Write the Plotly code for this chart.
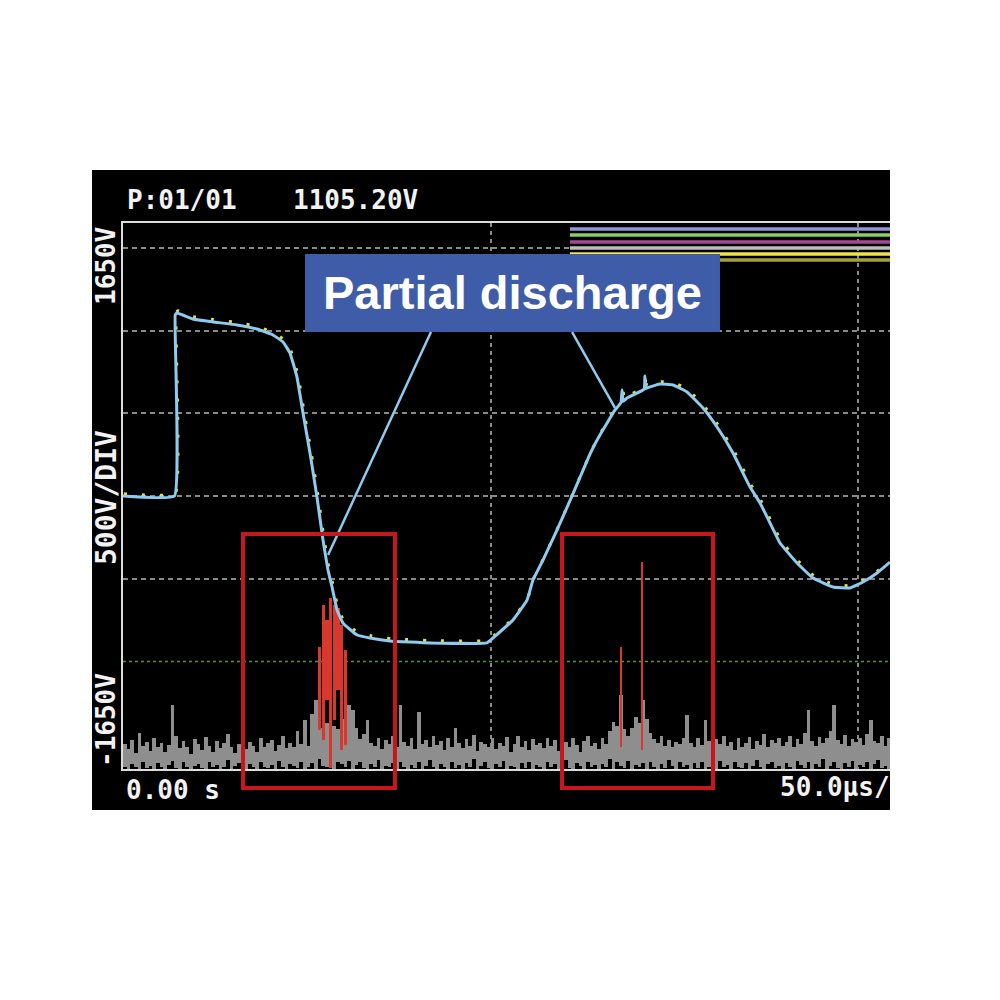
import plotly.graph_objects as go

# ---------------- data ----------------
# CH1 applied voltage waveform: time (µs) and voltage (V)
wave_t = [0, 7.0, 7.1, 7.35, 9.52, 12.24, 15.51, 18.23, 20.41,
          21.77, 22.72, 23.67, 24.49, 25.44, 26.39, 27.21, 27.89, 28.44, 29.12,
          29.93, 31.84, 33.61, 36.33, 41.77, 49.52, 50.34, 53.06, 54.97, 55.78,
          57.14, 58.9, 60.5, 62.1, 63.6, 64.90, 66.94, 67.75, 67.9, 68.05, 68.57, 70.9,
          71.0, 71.12, 71.29, 73.06, 74.83, 76.73, 78.91, 80.82, 82.99, 85.31,
          86.67, 88.03, 89.39, 91.70, 93.88, 96.60, 98.91, 100.68, 102.59, 104.35]
wave_v = [0, 0, 1094, 1106, 1070, 1052, 1034, 1009, 973,
          931, 864, 719, 502, 260, -6, -266, -447, -550, -689,
          -768, -840, -858, -876, -888, -888, -858, -749, -629, -508,
          -387, -220, -60, 105, 260, 370, 520, 565, 640, 572, 592, 646,
          725, 650, 653, 677, 671, 629, 532, 417, 260, 54,
          -42, -163, -284, -405, -496, -550, -556, -520, -465, -399]

# PD sensor envelope: 0.5 µs columns, amplitudes (V) above the -1650 V floor
noise_start = 0.25
noise_step = 0.5
noise_top = [
    150, 120, 175, 95, 218, 140, 165, 110, 185, 130, 160, 100, 145, 387, 200, 125, 170, 135, 90, 180,
    150, 115, 195, 140, 105, 170, 125, 160, 210, 135, 95, 150, 180, 120, 165, 140, 100, 190, 130, 155,
    175, 110, 145, 200, 125, 160, 135, 230, 150, 296, 140, 330, 417, 300, 250, 280, 200, 260, 240, 300,
    280, 387, 356, 250, 180, 210, 296, 160, 140, 190, 120, 175, 150, 200, 135, 387, 165, 140, 185, 120,
    344, 150, 175, 130, 200, 145, 170, 115, 190, 135, 250, 160, 125, 180, 140, 205, 110, 165, 150, 130,
    185, 120, 160, 140, 195, 105, 150, 200, 135, 170, 115, 180, 145, 160, 125, 190, 140, 175, 110, 155,
    165, 130, 185, 145, 100, 170, 200, 140, 160, 120, 190, 150, 230, 284, 260, 447, 240, 200, 250, 314,
    280, 417, 300, 220, 180, 160, 200, 140, 175, 130, 165, 150, 185, 326, 160, 135, 190, 145, 296, 170,
    125, 180, 150, 200, 140, 165, 115, 185, 135, 160, 195, 120, 170, 145, 210, 130, 175, 155, 190, 140,
    165, 200, 135, 180, 150, 220, 356, 170, 140, 195, 160, 185, 230, 387, 175, 150, 205, 140, 180, 165,
    190, 145, 210, 296, 170, 155, 200, 140, 185]
noise_bot = [
    10, 0, 30, 15, 0, 45, 5, 20, 0, 35, 10, 0, 25, 50, 5, 0, 40, 15, 0, 20,
    30, 5, 0, 45, 10, 25, 0, 15, 55, 0, 20, 35, 5, 0, 30, 10, 0, 40, 15, 5,
    25, 0, 50, 10, 0, 30, 20, 5, 45, 0, 15, 35, 0, 60, 20, 10, 80, 0, 40, 30,
    10, 50, 0, 25, 40, 5, 0, 30, 15, 55, 0, 20, 10, 35, 0, 45, 15, 0, 25, 5,
    40, 0, 20, 55, 10, 0, 30, 15, 0, 45, 5, 25, 0, 35, 10, 60, 0, 20, 40, 5,
    0, 30, 15, 50, 0, 20, 10, 0, 35, 5, 45, 0, 25, 15, 0, 40, 10, 30, 0, 20,
    55, 5, 0, 35, 20, 0, 45, 10, 25, 0, 30, 15, 60, 0, 40, 20, 5, 50, 0, 25,
    10, 35, 0, 45, 15, 0, 30, 5, 55, 20, 0, 40, 10, 25, 0, 35, 5, 45, 0, 15,
    30, 0, 50, 10, 25, 0, 40, 15, 5, 35, 0, 20, 55, 10, 0, 30, 45, 5, 20, 0,
    35, 15, 0, 50, 25, 5, 40, 0, 30, 10, 60, 0, 20, 45, 5, 0, 35, 15, 50, 0,
    25, 10, 40, 0, 30, 55, 5, 20, 0]

# partial-discharge pulses (red): time (µs), top / bottom amplitude above floor (V)
pd_t = [26.75, 27.25, 27.75, 28.25, 28.75, 29.25, 29.75, 30.25, 67.75, 70.65]
pd_top = [737, 991, 900, 1033, 991, 973, 870, 719, 737, 1251]
pd_bot = [236, 175, 417, 6, 296, 477, 115, 145, 133, 115]
pd_width = [0.42, 0.42, 0.42, 0.42, 0.42, 0.42, 0.42, 0.42, 0.3, 0.3]

# highlighted regions (µs)
box_t = [[16.33, 37.0], [59.73, 80.27]]

# axis settings
y_range = [-1650, 1650]
x_range = [0, 104.35]
grid_y = [1500, 1000, 500, 0, -500]
grid_x = [50, 100]
trigger_level = -1000

header_left = "P:01/01"
header_value = "1105.20V"
y_top_label = "1650V"
y_scale_label = "500V/DIV"
y_bottom_label = "-1650V"
x_start_label = "0.00 s"
x_scale_label = "50.0µs/"
callout_text = "<b>Partial discharge</b>"

# ---------------- layout helpers (screen pixel -> paper) ----------------
OFF = 8  # page body margin
L, R, T, B = 123, 890, 223, 769


def px(x):
    return (x - L) / (R - L)


def py(y):
    return (B - y) / (B - T)


floor = y_range[0]
noise_t = [noise_start + noise_step * i for i in range(len(noise_top))]

BLUE = "#8ecbee"
MONO = "DejaVu Sans Mono"

fig = go.Figure()

fig.add_trace(go.Bar(
    x=noise_t,
    y=[t - b for t, b in zip(noise_top, noise_bot)],
    base=[floor + b for b in noise_bot],
    width=noise_step,
    marker=dict(color="#8e8e8e", line=dict(width=0)),
    hoverinfo="skip"))

fig.add_trace(go.Bar(
    x=pd_t,
    y=[t - b for t, b in zip(pd_top, pd_bot)],
    base=[floor + b for b in pd_bot],
    width=pd_width,
    marker=dict(color="#d8382e", line=dict(width=0)),
    hoverinfo="skip"))

fig.add_trace(go.Scatter(
    x=[t + 0.12 for t in wave_t], y=[v + 14 for v in wave_v],
    mode="lines", line_shape="spline",
    line=dict(color="#e6df3c", width=3, dash="3px,15px", smoothing=0.3),
    hoverinfo="skip"))

fig.add_trace(go.Scatter(
    x=wave_t, y=wave_v, mode="lines", line_shape="spline",
    line=dict(color=BLUE, width=3, smoothing=0.3), hoverinfo="skip"))

shapes = []
# black screen background
shapes.append(dict(type="rect", xref="paper", yref="paper",
                   x0=px(92), x1=1.0, y0=py(810), y1=py(170),
                   fillcolor="black", line=dict(width=0), layer="below"))
# trigger / CH2 zero level (green dotted)
shapes.append(dict(type="line", xref="paper", yref="y", x0=0, x1=1,
                   y0=trigger_level, y1=trigger_level,
                   line=dict(color="#3f9d4a", width=1.5, dash="3px,3px"), layer="below"))
# channel indicator bars (top right)
bars = [(1614, "#8f95d8", 60.8), (1577, "#8ccb66", 60.8), (1535, "#a14a94", 60.8),
        (1499, "#bdbdbd", 60.8), (1463, "#ece352", 60.8), (1426, "#a3a13e", 81.2)]
for lvl, col, x0 in bars:
    shapes.append(dict(type="line", xref="x", yref="y", x0=x0, x1=x_range[1],
                       y0=lvl, y1=lvl, line=dict(color=col, width=3.5), layer="above"))
# label box
shapes.append(dict(type="rect", xref="x", yref="y", x0=24.76, x1=81.22, y0=991, y1=1463,
                   fillcolor="#3f5ca8", line=dict(width=0), layer="above"))
# callout lines
shapes.append(dict(type="line", xref="x", yref="y", x0=41.9, y0=991, x1=27.9, y1=-357,
                   line=dict(color=BLUE, width=2.5), layer="above"))
shapes.append(dict(type="line", xref="x", yref="y", x0=61.1, y0=991, x1=66.94, y1=532,
                   line=dict(color=BLUE, width=2.5), layer="above"))
# red highlight boxes
for x0, x1 in box_t:
    shapes.append(dict(type="rect", xref="x", yref="paper", x0=x0, x1=x1,
                       y0=py(788), y1=py(534),
                       line=dict(color="#c8161f", width=4), fillcolor="rgba(0,0,0,0)",
                       layer="above"))

white_font = dict(family=MONO, size=26, color="#f2f2f2")
annotations = [
    dict(text="<b>" + header_left + "</b>", xref="paper", yref="paper", x=px(125), y=py(200),
         xanchor="left", yanchor="middle", showarrow=False, font=white_font),
    dict(text="<b>" + header_value + "</b>", xref="paper", yref="paper", x=px(291), y=py(200),
         xanchor="left", yanchor="middle", showarrow=False, font=white_font),
    dict(text="<b>" + y_top_label + "</b>", xref="paper", yref="paper", x=px(106), y=py(266),
         xanchor="center", yanchor="middle", textangle=-90, showarrow=False, font=white_font),
    dict(text="<b>" + y_scale_label + "</b>", xref="paper", yref="paper", x=px(106), y=py(498),
         xanchor="center", yanchor="middle", textangle=-90, showarrow=False,
         font=dict(family=MONO, size=28, color="#f2f2f2")),
    dict(text="<b>" + y_bottom_label + "</b>", xref="paper", yref="paper", x=px(106), y=py(720),
         xanchor="center", yanchor="middle", textangle=-90, showarrow=False, font=white_font),
    dict(text="<b>" + x_start_label + "</b>", xref="paper", yref="paper", x=px(124), y=py(790),
         xanchor="left", yanchor="middle", showarrow=False, font=white_font),
    dict(text="<b>" + x_scale_label + "</b>", xref="paper", yref="paper", x=px(892), y=py(787),
         xanchor="right", yanchor="middle", showarrow=False, font=white_font),
    dict(text=callout_text, xref="x", yref="y", x=52.99, y=1227,
         xanchor="center", yanchor="middle", showarrow=False,
         font=dict(family="Liberation Sans", size=47, color="white")),
]

fig.update_layout(
    width=1000, height=1000,
    margin=dict(l=L - OFF, r=1000 - (R - OFF), t=T - OFF, b=1000 - (B - OFF), pad=0),
    paper_bgcolor="white", plot_bgcolor="black",
    showlegend=False, barmode="overlay", bargap=0,
    xaxis=dict(range=x_range, showline=True, linecolor="#dcdcdc", linewidth=2, mirror=True,
               tickvals=grid_x, showticklabels=False, ticks="", showgrid=True,
               gridcolor="#8a8a8a", gridwidth=1.5, griddash="4px,4px", zeroline=False),
    yaxis=dict(range=y_range, showline=True, linecolor="#dcdcdc", linewidth=2, mirror=False,
               tickvals=grid_y, showticklabels=False, ticks="", showgrid=True,
               gridcolor="#8a8a8a", gridwidth=1.5, griddash="5px,4px", zeroline=False),
    shapes=shapes, annotations=annotations,
)

fig.write_html("out.html")
